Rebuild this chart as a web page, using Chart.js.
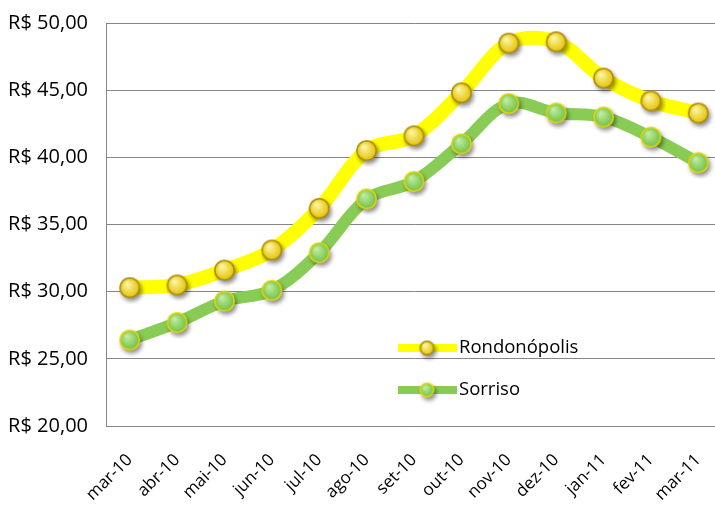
<!DOCTYPE html>
<html lang="pt-BR">
<head>
<meta charset="utf-8">
<title>Rondonópolis x Sorriso</title>
<script src="https://cdn.jsdelivr.net/npm/chart.js@4"></script>
<style>
  html, body { margin: 0; padding: 0; background: #fff; overflow: hidden; }
  /* plotvlak loopt rechts net buiten beeld door, zoals in het origineel */
  #kader { position: relative; width: 740px; height: 508px; }
</style>
</head>
<body>
<div id="kader"><canvas id="grafiek"></canvas></div>
<script>
const meses = ['mar-10', 'abr-10', 'mai-10', 'jun-10', 'jul-10', 'ago-10', 'set-10',
  'out-10', 'nov-10', 'dez-10', 'jan-11', 'fev-11', 'mar-11'];
const rondonopolis = [30.3, 30.5, 31.6, 33.1, 36.2, 40.5, 41.6, 44.8, 48.5, 48.6, 45.9, 44.2, 43.3];
const sorriso = [26.4, 27.7, 29.3, 30.1, 32.9, 36.9, 38.2, 41.0, 44.0, 43.3, 43.0, 41.5, 39.6];
const yTicks = [20, 25, 30, 35, 40, 45, 50];

const lettertype = '"Open Sans", "Noto Sans", sans-serif';

// glanzende bol als puntsymbool
function maakBol(straal, licht, kern, rand) {
  const marge = 6;
  const m = straal + marge;
  const c = document.createElement('canvas');
  c.width = c.height = m * 2;
  const ctx = c.getContext('2d');
  ctx.save();
  ctx.shadowColor = 'rgba(0,0,0,0.45)';
  ctx.shadowBlur = 4;
  ctx.shadowOffsetX = 2;
  ctx.shadowOffsetY = 3;
  ctx.beginPath();
  ctx.arc(m, m, straal, 0, Math.PI * 2);
  ctx.fillStyle = rand;
  ctx.fill();
  ctx.restore();
  const g = ctx.createRadialGradient(m - straal * 0.3, m - straal * 0.4, 0, m, m, straal);
  g.addColorStop(0, licht);
  g.addColorStop(1, kern);
  ctx.beginPath();
  ctx.arc(m, m, straal - 1.6, 0, Math.PI * 2);
  ctx.fillStyle = g;
  ctx.fill();
  return c;
}

const bolGeel = maakBol(10.5, '#fffbb0', '#e2c000', '#b08a00');
const bolGroen = maakBol(10.5, '#c8f0a8', '#6cbf40', '#e6d600');
const bolGeelKlein = maakBol(7.5, '#fffbb0', '#e2c000', '#b08a00');
const bolGroenKlein = maakBol(7.5, '#c8f0a8', '#6cbf40', '#e6d600');

const legenda = [
  { label: 'Rondonópolis', kleur: '#ffff00', bol: bolGeelKlein, y: 348 },
  { label: 'Sorriso', kleur: '#88cc55', bol: bolGroenKlein, y: 390 },
];

const legendaPlugin = {
  id: 'legendaBinnen',
  afterDatasetsDraw(chart) {
    const ctx = chart.ctx;
    ctx.save();
    legenda.forEach(item => {
      ctx.fillStyle = item.kleur;
      ctx.fillRect(398, item.y - 4, 59, 8);
      ctx.drawImage(item.bol, 427 - item.bol.width / 2, item.y - item.bol.height / 2);
      ctx.fillStyle = '#000';
      ctx.font = `18.5px ${lettertype}`;
      ctx.textBaseline = 'middle';
      ctx.textAlign = 'left';
      ctx.fillText(item.label, 459, item.y);
    });
    ctx.restore();
  },
};

new Chart(document.getElementById('grafiek'), {
  type: 'line',
  data: {
    labels: meses,
    datasets: [
      {
        label: 'Rondonópolis',
        data: rondonopolis,
        borderColor: '#ffff00',
        borderWidth: 14,
        tension: 0.35,
        pointStyle: bolGeel,
        pointRadius: 2,
        borderCapStyle: 'round',
      },
      {
        label: 'Sorriso',
        data: sorriso,
        borderColor: '#88cc55',
        borderWidth: 12,
        tension: 0.35,
        pointStyle: bolGroen,
        pointRadius: 2,
        borderCapStyle: 'round',
      },
    ],
  },
  options: {
    responsive: true,
    maintainAspectRatio: false,
    animation: false,
    layout: { padding: { top: 23, left: 0, right: 0, bottom: 0 } },
    plugins: {
      legend: { display: false },
      tooltip: { enabled: false },
    },
    scales: {
      x: {
        offset: true,
        grid: { display: false },
        border: { display: true, color: '#868686', width: 1 },
        ticks: {
          color: '#000',
          font: { family: lettertype, size: 17 },
          maxRotation: 45,
          minRotation: 45,
          padding: 16,
        },
        afterFit(scale) {
          scale.height = 82;
          scale.paddingLeft = 0;
          scale.paddingRight = 0;
        },
      },
      y: {
        min: 20,
        max: 50,
        afterBuildTicks(scale) { scale.ticks = yTicks.map(v => ({ value: v })); },
        grid: { color: '#868686', lineWidth: 1, tickLength: 0 },
        border: { display: true, color: '#868686', width: 1 },
        ticks: {
          color: '#000',
          padding: 18,
          font: { family: lettertype, size: 20 },
          callback: v => 'R$ ' + Number(v).toFixed(2).replace('.', ','),
        },
        afterFit(scale) {
          scale.width = 106;
          scale.paddingTop = 0;
          scale.paddingBottom = 0;
        },
      },
    },
  },
  plugins: [legendaPlugin],
});
</script>
</body>
</html>
